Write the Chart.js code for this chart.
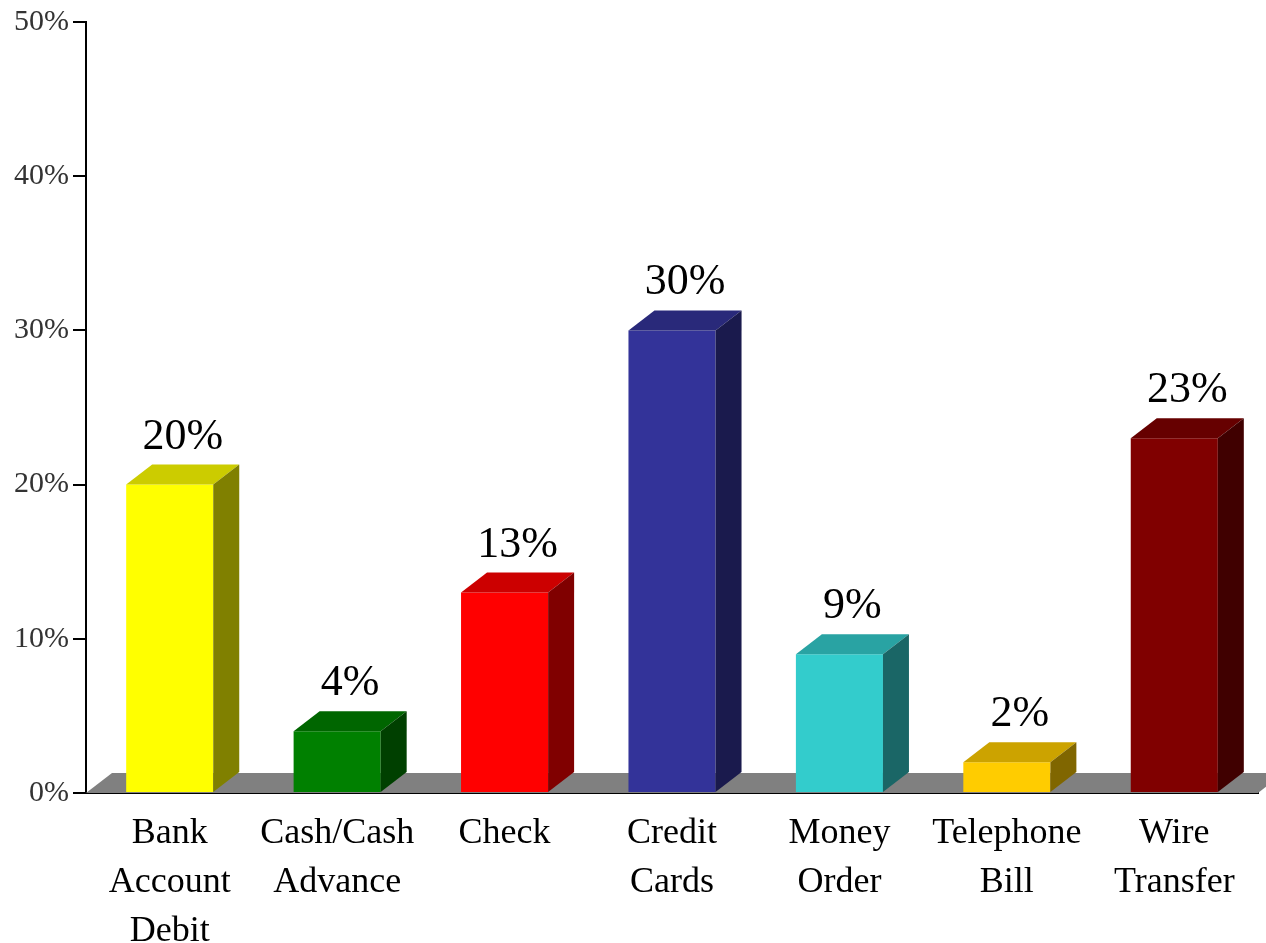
<!DOCTYPE html>
<html>
<head>
<meta charset="utf-8">
<script src="https://cdn.jsdelivr.net/npm/chart.js@4/dist/chart.umd.min.js"></script>
<style>
  body { margin: 0; background: #fff; }
  canvas { display: block; }
</style>
</head>
<body>
<canvas id="chart" width="1266" height="943"></canvas>
<script>
var categories = [
  ['Bank', 'Account', 'Debit'],
  ['Cash/Cash', 'Advance'],
  ['Check'],
  ['Credit', 'Cards'],
  ['Money', 'Order'],
  ['Telephone', 'Bill'],
  ['Wire', 'Transfer']
];
var values     = [20, 4, 13, 30, 9, 2, 23];
var frontColor = ['#ffff00', '#008000', '#ff0000', '#333399', '#33cccc', '#ffcc00', '#800000'];
var topColor   = ['#cccc00', '#006600', '#cc0000', '#29297a', '#29a3a3', '#cca300', '#660000'];
var sideColor  = ['#808000', '#004000', '#800000', '#1a1a4d', '#1a6666', '#806600', '#400000'];
var yTicks     = [0, 10, 20, 30, 40, 50];

var DX = 26, DY = 20;
var serif = '"Liberation Serif", "Times New Roman", serif';

// gray floor under the bars
var floor3d = {
  id: 'floor3d',
  beforeDatasetsDraw: function(chart) {
    var ctx = chart.ctx, a = chart.chartArea;
    var base = chart.scales.y.getPixelForValue(0);
    ctx.save();
    ctx.fillStyle = '#808080';
    ctx.beginPath();
    ctx.moveTo(a.left, base);
    ctx.lineTo(a.right, base);
    ctx.lineTo(a.right + DX, base - DY);
    ctx.lineTo(a.left + DX, base - DY);
    ctx.closePath();
    ctx.fill();
    ctx.restore();
  }
};

// top and side faces, plus value labels
var bars3d = {
  id: 'bars3d',
  afterDatasetsDraw: function(chart) {
    var ctx = chart.ctx;
    var meta = chart.getDatasetMeta(0);
    ctx.save();
    meta.data.forEach(function(bar, i) {
      var p = bar.getProps(['x', 'y', 'base', 'width'], true);
      var x0 = p.x - p.width / 2, x1 = p.x + p.width / 2;
      ctx.fillStyle = topColor[i];
      ctx.beginPath();
      ctx.moveTo(x0, p.y);
      ctx.lineTo(x1, p.y);
      ctx.lineTo(x1 + DX, p.y - DY);
      ctx.lineTo(x0 + DX, p.y - DY);
      ctx.closePath();
      ctx.fill();

      ctx.fillStyle = sideColor[i];
      ctx.beginPath();
      ctx.moveTo(x1, p.y);
      ctx.lineTo(x1 + DX, p.y - DY);
      ctx.lineTo(x1 + DX, p.base - DY);
      ctx.lineTo(x1, p.base);
      ctx.closePath();
      ctx.fill();

      ctx.fillStyle = '#000';
      ctx.font = '44px ' + serif;
      ctx.textAlign = 'center';
      ctx.textBaseline = 'alphabetic';
      ctx.fillText(values[i] + '%', p.x + DX / 2, p.y - DY - 16);
    });
    ctx.restore();
  }
};

new Chart(document.getElementById('chart'), {
  type: 'bar',
  data: {
    labels: categories,
    datasets: [{
      data: values,
      backgroundColor: frontColor,
      borderWidth: 0,
      barPercentage: 0.52,
      categoryPercentage: 1
    }]
  },
  options: {
    responsive: false,
    animation: false,
    layout: { padding: { top: 12, right: 8 } },
    plugins: { legend: { display: false }, tooltip: { enabled: false } },
    scales: {
      x: {
        grid: { display: false },
        border: { display: true, color: '#000', width: 2 },
        ticks: {
          color: '#000',
          font: { family: serif, size: 36, lineHeight: 1.36 },
          padding: 8,
          maxRotation: 0,
          autoSkip: false
        },
        afterFit: function(s) { s.height = 150; }
      },
      y: {
        min: 0,
        max: 50,
        afterBuildTicks: function(s) {
          s.ticks = yTicks.map(function(v) { return { value: v }; });
        },
        grid: { drawOnChartArea: false, color: '#000', tickLength: 13, lineWidth: 2 },
        border: { display: true, color: '#000', width: 2 },
        ticks: {
          color: '#333',
          font: { family: serif, size: 30 },
          padding: 4,
          callback: function(v) { return v + '%'; }
        },
        afterFit: function(s) { s.width = 86; }
      }
    }
  },
  plugins: [floor3d, bars3d]
});
</script>
</body>
</html>
